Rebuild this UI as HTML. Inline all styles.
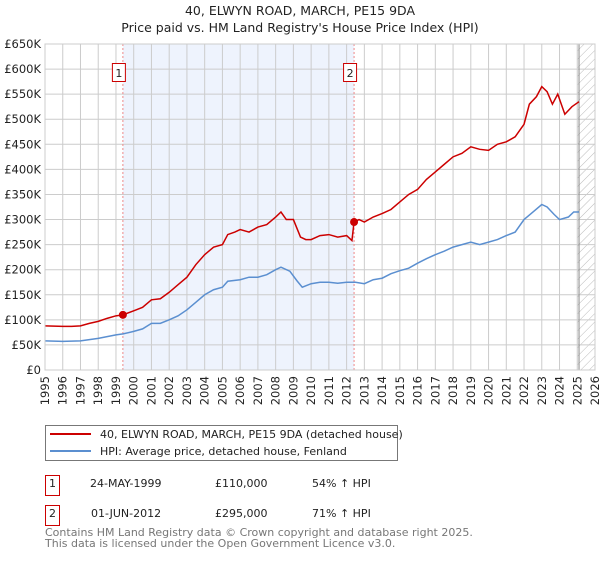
<!DOCTYPE html>
<html><head><meta charset="utf-8"><style>
body{margin:0;background:#fff;font-family:"Liberation Sans","DejaVu Sans",sans-serif}
svg text{font-family:"DejaVu Sans","Liberation Sans",sans-serif}
</style></head><body>
<svg id="c" width="600" height="560" viewBox="0 0 600 560">
<defs><pattern id="hatch" width="6" height="6" patternUnits="userSpaceOnUse" patternTransform="rotate(45)"><line x1="0" y1="0" x2="0" y2="6" stroke="#bbb" stroke-width="1"/></pattern></defs>
<text x="300" y="15" text-anchor="middle" font-size="12.5" fill="#222">40, ELWYN ROAD, MARCH, PE15 9DA</text>
<text x="300" y="32" text-anchor="middle" font-size="12.5" fill="#222">Price paid vs. HM Land Registry's House Price Index (HPI)</text>
<g id="plot"></g>
<g>
<rect x="45.5" y="425.5" width="352" height="35" fill="#fff" stroke="#777"/>
<line x1="50" y1="434" x2="91" y2="434" stroke="#cc0000" stroke-width="2"/>
<text x="100" y="438" font-size="11" fill="#222">40, ELWYN ROAD, MARCH, PE15 9DA (detached house)</text>
<line x1="50" y1="451" x2="91" y2="451" stroke="#5b8fd0" stroke-width="2"/>
<text x="100" y="455" font-size="11" fill="#222">HPI: Average price, detached house, Fenland</text>
</g>
<g font-size="11" fill="#222">
<rect x="45.5" y="475.5" width="14" height="20" fill="#fff" stroke="#cc0000"/>
<text x="52.5" y="487" text-anchor="middle">1</text>
<text x="90" y="487">24-MAY-1999</text><text x="215" y="487">£110,000</text><text x="312" y="487">54% ↑ HPI</text>
<rect x="45.5" y="505.5" width="14" height="20" fill="#fff" stroke="#cc0000"/>
<text x="52.5" y="517" text-anchor="middle">2</text>
<text x="91" y="517">01-JUN-2012</text><text x="215" y="517">£295,000</text><text x="312" y="517">71% ↑ HPI</text>
</g>
<text x="45" y="536" font-size="11" fill="#777">Contains HM Land Registry data © Crown copyright and database right 2025.</text>
<text x="45" y="547" font-size="11" fill="#777">This data is licensed under the Open Government Licence v3.0.</text>
</svg>
<script>
const yTicks=[0,50,100,150,200,250,300,350,400,450,500,550,600,650];
const xYears=[1995,1996,1997,1998,1999,2000,2001,2002,2003,2004,2005,2006,2007,2008,2009,2010,2011,2012,2013,2014,2015,2016,2017,2018,2019,2020,2021,2022,2023,2024,2025,2026];
const hpiT=[1995,1996,1997,1998,1999,1999.4,2000,2000.5,2001,2001.5,2002,2002.5,2003,2003.5,2004,2004.5,2005,2005.3,2006,2006.5,2007,2007.5,2008,2008.3,2008.8,2009.2,2009.5,2010,2010.5,2011,2011.5,2012,2012.5,2013,2013.5,2014,2014.5,2015,2015.5,2016,2016.5,2017,2017.5,2018,2018.5,2019,2019.5,2020,2020.5,2021,2021.5,2022,2022.5,2023,2023.3,2023.7,2024,2024.5,2024.8,2025.1];
const hpiV=[58,57,58,63,70,72,77,82,93,93,100,108,120,135,150,160,165,177,180,185,185,190,200,205,197,178,165,172,175,175,173,175,175,172,180,183,192,198,203,213,222,230,237,245,250,255,250,255,260,268,275,300,315,330,325,310,300,305,315,315];
const propT=[1995,1996,1996.5,1997,1997.5,1998,1998.5,1999,1999.4,2000,2000.5,2001,2001.5,2002,2002.5,2003,2003.5,2004,2004.5,2005,2005.3,2005.7,2006,2006.5,2007,2007.5,2008,2008.3,2008.6,2009,2009.4,2009.7,2010,2010.5,2011,2011.5,2012,2012.3,2012.42,2012.7,2013,2013.5,2014,2014.5,2015,2015.5,2016,2016.5,2017,2017.5,2018,2018.5,2019,2019.5,2020,2020.5,2021,2021.5,2022,2022.3,2022.7,2023,2023.3,2023.6,2023.9,2024.3,2024.7,2025.1];
const propV=[88,87,87,88,93,97,103,108,110,118,125,140,142,155,170,185,210,230,245,250,270,275,280,275,285,290,305,315,300,300,265,260,260,268,270,265,268,258,295,300,295,305,312,320,335,350,360,380,395,410,425,432,445,440,438,450,455,465,490,530,545,565,555,530,550,510,525,535];
const saleT=[1999.39,2012.42];
const saleV=[110,295];
const saleLabels=["1","2"];
const X0=45,X1=595,Y0=370,Y1=44;
const xs=t=>X0+(t-1995)/(2026-1995)*(X1-X0);
const ys=v=>Y0-v/650*(Y0-Y1);
const NS="http://www.w3.org/2000/svg";
const g=document.getElementById('plot');
function mk(tag,at,parent){const e=document.createElementNS(NS,tag);for(const k in at)e.setAttribute(k,at[k]);(parent||g).appendChild(e);return e;}
let e;
e=mk('rect',{x:xs(saleT[0]),y:Y1,width:xs(saleT[1])-xs(saleT[0]),height:Y0-Y1,fill:'#eef3fd'});


e=mk('rect',{x:xs(2025),y:Y1,width:X1-xs(2025),height:Y0-Y1,fill:'url(#hatch)'});


yTicks.forEach(v=>{
 e=mk('line',{x1:X0,x2:X1,y1:ys(v),y2:ys(v),stroke:'#ccc','stroke-width':1});
 
 
 e=mk('text',{x:X0-4,y:ys(v)+4,'text-anchor':'end','font-size':'11.5',fill:'#222'});
 e.textContent=v===0?'£0':'£'+v+'K';
 
 
});
xYears.forEach(t=>{
 e=mk('line',{x1:xs(t),x2:xs(t),y1:Y1,y2:Y0,stroke:'#ccc','stroke-width':1});
 
 
 e=mk('text',{x:0,y:0,'text-anchor':'end','font-size':'11.5',fill:'#222',transform:`translate(${xs(t)+4},${Y0+6}) rotate(-90)`});
 e.textContent=t;
 
 
});
e=mk('line',{x1:xs(2025.1),x2:xs(2025.1),y1:Y1,y2:Y0,stroke:'#888','stroke-width':1});


saleT.forEach((t,i)=>{
 e=mk('line',{x1:xs(t),x2:xs(t),y1:Y1,y2:Y0,stroke:'#e88','stroke-width':1,'stroke-dasharray':'2,2'});
 
 
 e=mk('rect',{x:xs(t)-10.5,y:63.5,width:13,height:18,fill:'#fff',stroke:'#cc0000'});
 
 
 e=mk('text',{x:xs(t)-4,y:77,'text-anchor':'middle','font-size':'11',fill:'#222'});
 e.textContent=saleLabels[i];
 
 
});
e=mk('polyline',{points:hpiT.map((t,i)=>xs(t)+','+ys(hpiV[i])).join(' '),fill:'none',stroke:'#5b8fd0','stroke-width':1.5});


e=mk('polyline',{points:propT.map((t,i)=>xs(t)+','+ys(propV[i])).join(' '),fill:'none',stroke:'#cc0000','stroke-width':1.5});


saleT.forEach((t,i)=>{
 e=mk('circle',{cx:xs(t),cy:ys(saleV[i]),r:4,fill:'#cc0000'});
 
 
});
e=mk('rect',{x:X0,y:Y1,width:X1-X0,height:Y0-Y1,fill:'none',stroke:'#ccc'});


</script>
</body></html>
